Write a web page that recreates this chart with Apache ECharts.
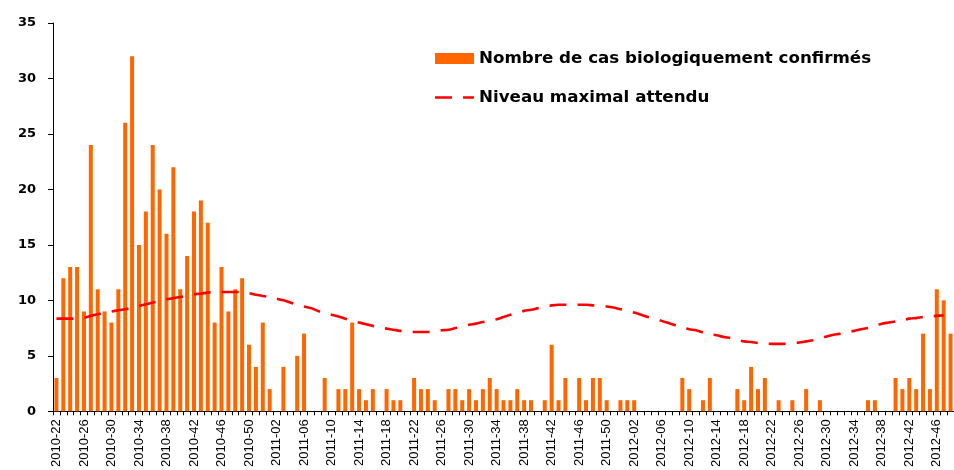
<!DOCTYPE html>
<html>
<head>
<meta charset="utf-8">
<script src="https://cdn.jsdelivr.net/npm/echarts@6/dist/echarts.min.js"></script>
<style>html,body{margin:0;padding:0;background:#fff;}#c{width:954px;height:470px;}</style>
</head>
<body>
<div id="c"></div>
<script>
const weeks = [
'2010-22','2010-23','2010-24','2010-25','2010-26','2010-27','2010-28','2010-29','2010-30','2010-31','2010-32','2010-33','2010-34','2010-35','2010-36','2010-37','2010-38','2010-39','2010-40','2010-41','2010-42','2010-43','2010-44','2010-45','2010-46','2010-47','2010-48','2010-49','2010-50','2010-51','2010-52',
'2011-01','2011-02','2011-03','2011-04','2011-05','2011-06','2011-07','2011-08','2011-09','2011-10','2011-11','2011-12','2011-13','2011-14','2011-15','2011-16','2011-17','2011-18','2011-19','2011-20','2011-21','2011-22','2011-23','2011-24','2011-25','2011-26','2011-27','2011-28','2011-29','2011-30','2011-31','2011-32','2011-33','2011-34','2011-35','2011-36','2011-37','2011-38','2011-39','2011-40','2011-41','2011-42','2011-43','2011-44','2011-45','2011-46','2011-47','2011-48','2011-49','2011-50','2011-51','2011-52',
'2012-01','2012-02','2012-03','2012-04','2012-05','2012-06','2012-07','2012-08','2012-09','2012-10','2012-11','2012-12','2012-13','2012-14','2012-15','2012-16','2012-17','2012-18','2012-19','2012-20','2012-21','2012-22','2012-23','2012-24','2012-25','2012-26','2012-27','2012-28','2012-29','2012-30','2012-31','2012-32','2012-33','2012-34','2012-35','2012-36','2012-37','2012-38','2012-39','2012-40','2012-41','2012-42','2012-43','2012-44','2012-45','2012-46','2012-47','2012-48'
];
const confirmedCases = [
3,12,13,13,9,24,11,9,8,11,
26,32,15,18,24,20,16,22,11,14,
18,19,17,8,13,9,11,12,6,4,
8,2,0,4,0,5,7,0,0,3,
0,2,2,8,2,1,2,0,2,1,
1,0,3,2,2,1,0,2,2,1,
2,1,2,3,2,1,1,2,1,1,
0,1,6,1,3,0,3,1,3,3,
1,0,1,1,1,0,0,0,0,0,
0,3,2,0,1,3,0,0,0,2,
1,4,2,3,0,1,0,1,0,2,
0,1,0,0,0,0,0,0,1,1,
0,0,3,2,3,2,7,2,11,10,
7
];
const expectedMax = [
8.35,8.35,8.35,8.35,8.45,8.6,8.75,8.9,9.0,9.1,
9.2,9.3,9.5,9.65,9.8,9.95,10.1,10.2,10.3,10.4,
10.55,10.6,10.7,10.75,10.75,10.75,10.75,10.75,10.65,10.5,
10.4,10.3,10.15,10.0,9.8,9.6,9.45,9.3,9.05,8.85,
8.7,8.55,8.35,8.15,8.0,7.85,7.7,7.55,7.45,7.35,
7.25,7.2,7.15,7.15,7.15,7.2,7.3,7.35,7.5,7.65,
7.8,7.9,8.05,8.15,8.3,8.5,8.7,8.9,9.05,9.15,
9.3,9.45,9.55,9.6,9.6,9.6,9.6,9.6,9.55,9.5,
9.45,9.35,9.2,9.05,8.9,8.7,8.5,8.35,8.15,7.95,
7.75,7.55,7.4,7.3,7.1,6.95,6.85,6.7,6.6,6.45,
6.3,6.25,6.15,6.1,6.08,6.08,6.1,6.15,6.2,6.3,
6.4,6.55,6.75,6.9,7.0,7.15,7.25,7.4,7.5,7.7,
7.9,8.0,8.1,8.2,8.35,8.4,8.5,8.55,8.6,8.65,
null
];
const yTicks = [0,5,10,15,20,25,30,35];
const seriesNames = ['Nombre de cas biologiquement confirmés','Niveau maximal attendu'];

const chart = echarts.init(document.getElementById('c'), null, {renderer:'canvas'});
chart.setOption({
  animation: false,
  backgroundColor: '#ffffff',
  grid: {left: 53, right: 0, top: 23, bottom: 56, containLabel: false},
  legend: {
    orient: 'vertical', left: 435, top: 50, padding: 0,
    itemWidth: 39, itemHeight: 11, itemGap: 22,
    symbolKeepAspect: true,
    textStyle: {fontFamily: 'DejaVu Sans', fontWeight: 'bold', fontSize: 16.7, color: '#000'},
    data: [
      {name: seriesNames[0], icon: 'rect'},
      {name: seriesNames[1], icon: 'path://M0,0H17V2.6H0Z M28,0H39V2.6H28Z'}
    ]
  },
  xAxis: {
    type: 'category', data: weeks, boundaryGap: true,
    axisLine: {lineStyle: {color: '#000', width: 1}},
    axisTick: {show: true, interval: 0, length: 4, lineStyle: {color: '#000'}},
    axisLabel: {interval: 3, rotate: 90, margin: 8, fontFamily: 'Liberation Sans, Arial', fontSize: 13, color: '#000'},
    splitLine: {show: false}
  },
  yAxis: {
    type: 'value', min: yTicks[0], max: yTicks[yTicks.length-1], interval: 5,
    axisLine: {show: true, lineStyle: {color: '#000', width: 1}},
    axisTick: {show: true, length: 5, lineStyle: {color: '#000'}},
    axisLabel: {margin: 17, fontFamily: 'DejaVu Sans', fontWeight: 'bold', fontSize: 13, color: '#000'},
    splitLine: {show: false}
  },
  series: [
    {
      name: seriesNames[0], type: 'bar', data: confirmedCases, barWidth: 4,
      itemStyle: {color: '#FF6600'}
    },
    {
      name: seriesNames[1], type: 'line', data: expectedMax, symbol: 'none', smooth: 0.3,
      lineStyle: {color: '#FF0000', width: 2.6, type: [17, 11]},
      itemStyle: {color: '#FF0000'}
    }
  ]
});
</script>
</body>
</html>
